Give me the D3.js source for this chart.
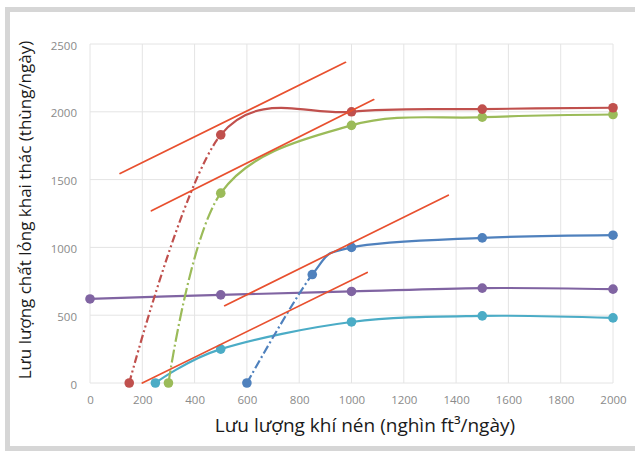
<!DOCTYPE html>
<html>
<head>
<meta charset="utf-8">
<script src="https://cdn.jsdelivr.net/npm/d3@7/dist/d3.min.js"></script>
<style>
  html, body { margin: 0; padding: 0; background: #ffffff; }
  svg { display: block; }
</style>
</head>
<body>
<svg id="chart" width="635" height="451"></svg>
<script>
// Axis ticks
const xTicks = [0, 200, 400, 600, 800, 1000, 1200, 1400, 1600, 1800, 2000];
const yTicks = [0, 500, 1000, 1500, 2000, 2500];

// Gas injection rate (thousand ft3/day) and liquid rate (bbl/day) per well curve
const redGas = [150, 500, 1000, 1500, 2000];
const redLiquid = [0, 1830, 2000, 2020, 2030];

const greenGas = [300, 500, 1000, 1500, 2000];
const greenLiquid = [0, 1400, 1900, 1960, 1980];

const blueGas = [600, 850, 1000, 1500, 2000];
const blueLiquid = [0, 800, 1000, 1070, 1090];

const purpleGas = [0, 500, 1000, 1500, 2000];
const purpleLiquid = [620, 650, 675, 700, 692];

const cyanGas = [250, 500, 1000, 1500, 2000];
const cyanLiquid = [0, 250, 450, 495, 480];

// Straight guide lines: start and end points (gas rate, liquid rate)
const guideStart = [[115, 1545], [235, 1270], [515, 570], [200, 0]];
const guideEnd = [[977, 2365], [1085, 2090], [1370, 1385], [1060, 815]];

const xTitle = "Lưu lượng khí nén (nghìn ft³/ngày)";
const yTitle = "Lưu lượng chất lỏng khai thác (thùng/ngày)";

const svg = d3.select("#chart");

// Frame
svg.append("rect")
  .attr("x", 7.5).attr("y", 9.5)
  .attr("width", 640).attr("height", 439)
  .attr("fill", "#ffffff")
  .attr("stroke", "#d6d6d6")
  .attr("stroke-width", 5);

const x = d3.scaleLinear().domain([0, 2000]).range([90, 613]);
const y = d3.scaleLinear().domain([0, 2500]).range([383, 44]);

// Gridlines
const grid = svg.append("g");
grid.selectAll("line.v").data(xTicks).join("line")
  .attr("x1", d => x(d)).attr("x2", d => x(d))
  .attr("y1", y(0)).attr("y2", y(2500))
  .attr("stroke", "#e4e4e4").attr("stroke-width", 1);
grid.selectAll("line.h").data(yTicks).join("line")
  .attr("x1", x(0)).attr("x2", x(2000))
  .attr("y1", d => y(d)).attr("y2", d => y(d))
  .attr("stroke", "#e4e4e4").attr("stroke-width", 1);

// Axes (labels only)
const plain = d3.format("d");
const xAxis = svg.append("g")
  .attr("transform", `translate(0,${y(0) + 13})`)
  .call(d3.axisBottom(x).tickValues(xTicks).tickFormat(plain).tickSize(0).tickPadding(0));
const yAxis = svg.append("g")
  .attr("transform", `translate(${x(0) - 13},0)`)
  .call(d3.axisLeft(y).tickValues(yTicks).tickFormat(plain).tickSize(0).tickPadding(0));
[xAxis, yAxis].forEach(a => {
  a.select(".domain").remove();
  a.selectAll("text")
    .attr("fill", "#8a8a8a")
    .style("font-family", "'Open Sans', sans-serif")
    .style("font-size", "11.5px");
});
yAxis.selectAll("text").attr("dy", "0.45em");

// Axis titles
svg.append("text")
  .attr("x", 365).attr("y", 432)
  .attr("text-anchor", "middle")
  .attr("fill", "#1a1a1a")
  .style("font-family", "'Open Sans', sans-serif")
  .style("font-size", "19px")
  .text(xTitle);
svg.append("text")
  .attr("transform", "translate(31,210) rotate(-90)")
  .attr("text-anchor", "middle")
  .attr("fill", "#1a1a1a")
  .style("font-family", "'Open Sans', sans-serif")
  .style("font-size", "17px")
  .text(yTitle);

// Series
const series = [
  { gas: purpleGas, liquid: purpleLiquid, color: "#8064a2", dash: null },
  { gas: cyanGas, liquid: cyanLiquid, color: "#4bacc6", dash: null },
  { gas: blueGas, liquid: blueLiquid, color: "#4f81bd", dash: "9,3,2,3" },
  { gas: greenGas, liquid: greenLiquid, color: "#9bbb59", dash: "13,3,2,3" },
  { gas: redGas, liquid: redLiquid, color: "#c0504d", dash: "8,3,2,3,2,3" }
];

const line = d3.line()
  .x(d => x(d[0])).y(d => y(d[1]))
  .curve(d3.curveCardinal.tension(0));

const defs = svg.append("defs");

series.forEach((s, i) => {
  const pts = s.gas.map((g, k) => [g, s.liquid[k]]);
  const pathD = line(pts);
  const g = svg.append("g");
  if (s.dash) {
    const split = x(s.gas[1]);
    defs.append("clipPath").attr("id", `lead${i}`)
      .append("rect").attr("x", 0).attr("y", 0).attr("width", split).attr("height", 451);
    defs.append("clipPath").attr("id", `rest${i}`)
      .append("rect").attr("x", split).attr("y", 0).attr("width", 635 - split).attr("height", 451);
    g.append("path").attr("d", pathD)
      .attr("fill", "none").attr("stroke", s.color).attr("stroke-width", 2.2)
      .attr("stroke-dasharray", s.dash)
      .attr("clip-path", `url(#lead${i})`);
    g.append("path").attr("d", pathD)
      .attr("fill", "none").attr("stroke", s.color).attr("stroke-width", 2.2)
      .attr("clip-path", `url(#rest${i})`);
  } else {
    g.append("path").attr("d", pathD)
      .attr("fill", "none").attr("stroke", s.color).attr("stroke-width", 2.2);
  }
  g.selectAll("circle").data(pts).join("circle")
    .attr("cx", d => x(d[0])).attr("cy", d => y(d[1]))
    .attr("r", 4.8)
    .attr("fill", s.color);
});

// Guide lines
svg.append("g").selectAll("line").data(guideStart).join("line")
  .attr("x1", d => x(d[0])).attr("y1", d => y(d[1]))
  .attr("x2", (d, i) => x(guideEnd[i][0])).attr("y2", (d, i) => y(guideEnd[i][1]))
  .attr("stroke", "#e8502f")
  .attr("stroke-width", 1.7)
  .attr("stroke-linecap", "round");
</script>
</body>
</html>
